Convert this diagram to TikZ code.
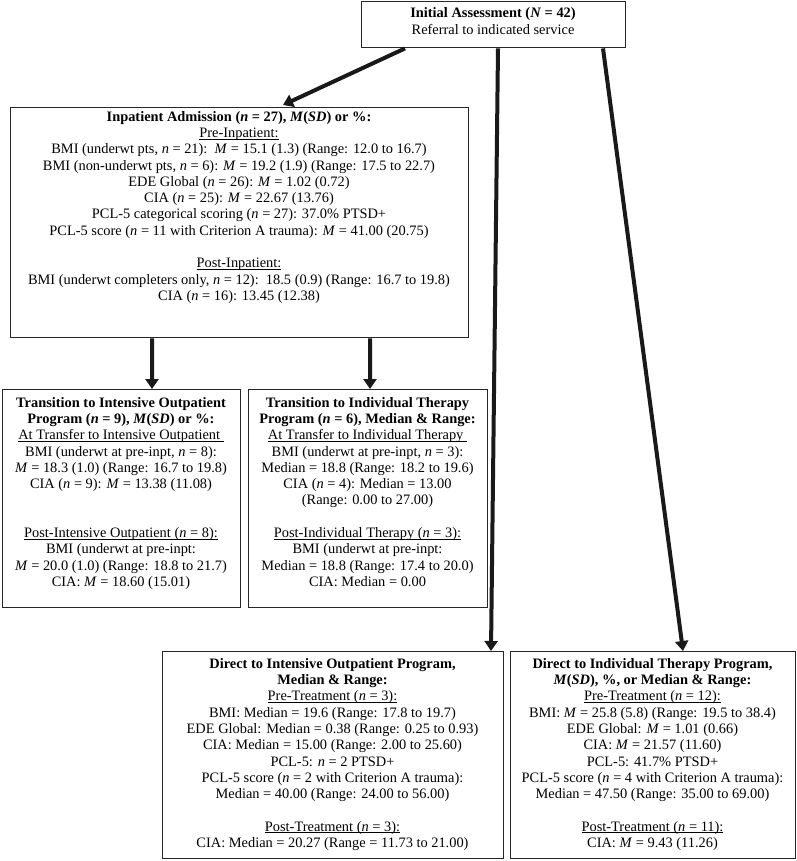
\documentclass[tikz,border=0pt]{standalone}
\usepackage{fontspec}
\setmainfont{Liberation Serif}
\usetikzlibrary{arrows.meta}
\newcommand{\vn}{\textit{n}}
\newcommand{\vM}{\textit{M}}
\newcommand{\uln}[1]{\underline{\smash{#1}}}
\begin{document}
\begin{tikzpicture}[x=1bp,y=-1bp,
  box/.style={draw=black!85, line width=1.4bp, anchor=north west, inner sep=0pt},
  txt/.style={anchor=north, align=center, inner sep=0pt, font=\fontsize{14.4bp}{16.3bp}\selectfont},
  arr/.style={line width=4bp, draw=black!90, -{Triangle[width=13bp,length=10bp]}}]
\useasboundingbox (0,0) rectangle (797,861);
% boxes
\node[box, minimum width=264bp, minimum height=46bp] (init) at (361,1) {};
\node[box, minimum width=458bp, minimum height=230bp] (inpat) at (10,107) {};
\node[box, minimum width=238bp, minimum height=218bp] (tiop) at (2,389) {};
\node[box, minimum width=239bp, minimum height=218bp] (tit) at (248,389) {};
\node[box, minimum width=341bp, minimum height=207bp] (diop) at (162,651) {};
\node[box, minimum width=285bp, minimum height=207bp] (dit) at (510,651) {};
% texts
\node[txt] (initT) at (493,7) {\textbf{Initial Assessment (\textit{N} = 42)}\\[1.5bp] Referral to indicated service};
\node[txt] (inpatT) at (239,111) {\textbf{Inpatient Admission (\vn{} = 27), \vM(\textit{SD}) or \%:}\\
\uln{Pre-Inpatient:}\\
BMI (underwt pts, \vn{} = 21):\ \ \vM{} = 15.1 (1.3) (Range: 12.0 to 16.7)\\
BMI (non-underwt pts, \vn{} = 6): \vM{} = 19.2 (1.9) (Range: 17.5 to 22.7)\\
EDE Global (\vn{} = 26): \vM{} = 1.02 (0.72)\\
CIA (\vn{} = 25): \vM{} = 22.67 (13.76)\\
PCL-5 categorical scoring (\vn{} = 27): 37.0\% PTSD+\\
PCL-5 score (\vn{} = 11 with Criterion A trauma): \vM{} = 41.00 (20.75)\\[16.3bp]
\uln{Post-Inpatient:}\\
BMI (underwt completers only, \vn{} = 12):\ \ 18.5 (0.9) (Range: 16.7 to 19.8)\\
CIA (\vn{} = 16): 13.45 (12.38)};
\node[txt] (tiopT) at (121,397) {\textbf{Transition to Intensive Outpatient}\\
\textbf{Program (\vn{} = 9), \vM(\textit{SD}) or \%:}\\
\uln{At Transfer to Intensive Outpatient\ }\\
BMI (underwt at pre-inpt, \vn{} = 8):\\
\vM{} = 18.3 (1.0) (Range: 16.7 to 19.8)\\
CIA (\vn{} = 9): \vM{} = 13.38 (11.08)\\[32.6bp]
\uln{Post-Intensive Outpatient (\vn{} = 8):}\\
BMI (underwt at pre-inpt:\\
\vM{} = 20.0 (1.0) (Range: 18.8 to 21.7)\\
CIA: \vM{} = 18.60 (15.01)};
\node[txt] (titT) at (367.5,397) {\textbf{Transition to Individual Therapy}\\
\textbf{Program (\vn{} = 6), Median \& Range:}\\
\uln{At Transfer to Individual Therapy\ }\\
BMI (underwt at pre-inpt, \vn{} = 3):\\
Median = 18.8 (Range: 18.2 to 19.6)\\
CIA (\vn{} = 4): Median = 13.00\\
(Range: 0.00 to 27.00)\\[16.3bp]
\uln{Post-Individual Therapy (\vn{} = 3):}\\
BMI (underwt at pre-inpt:\\
Median = 18.8 (Range: 17.4 to 20.0)\\
CIA: Median = 0.00};
\node[txt] (diopT) at (332.5,658) {\textbf{Direct to Intensive Outpatient Program,}\\
\textbf{Median \& Range:}\\
\uln{Pre-Treatment (\vn{} = 3):}\\
BMI: Median = 19.6 (Range: 17.8 to 19.7)\\
EDE Global: Median = 0.38 (Range: 0.25 to 0.93)\\
CIA: Median = 15.00 (Range: 2.00 to 25.60)\\
PCL-5: \vn{} = 2 PTSD+\\
PCL-5 score (\vn{} = 2 with Criterion A trauma):\\
Median = 40.00 (Range: 24.00 to 56.00)\\[16.3bp]
\uln{Post-Treatment (\vn{} = 3):}\\
CIA: Median = 20.27 (Range = 11.73 to 21.00)};
\node[txt] (ditT) at (652.5,658) {\textbf{Direct to Individual Therapy Program,}\\
\textbf{\vM(\textit{SD}), \%, or Median \& Range:}\\
\uln{Pre-Treatment (\vn{} = 12):}\\
BMI: \vM{} = 25.8 (5.8) (Range: 19.5 to 38.4)\\
EDE Global: \vM{} = 1.01 (0.66)\\
CIA: \vM{} = 21.57 (11.60)\\
PCL-5: 41.7\% PTSD+\\
PCL-5 score (\vn{} = 4 with Criterion A trauma):\\
Median = 47.50 (Range: 35.00 to 69.00)\\[16.3bp]
\uln{Post-Treatment (\vn{} = 11):}\\
CIA: \vM{} = 9.43 (11.26)};
% arrows
\draw[arr] ([xshift=44bp]init.south west) -- ([xshift=273bp,yshift=2bp]inpat.north west);
\draw[arr] ([xshift=137bp]init.south west) -- ([xshift=329bp]diop.north west);
\draw[arr] ([xshift=242bp]init.south west) -- ([xshift=173bp]dit.north west);
\draw[arr] ([xshift=142bp]inpat.south west) -- ([xshift=150bp]tiop.north west);
\draw[arr] ([xshift=360bp]inpat.south west) -- ([xshift=122bp]tit.north west);
\end{tikzpicture}
\end{document}
